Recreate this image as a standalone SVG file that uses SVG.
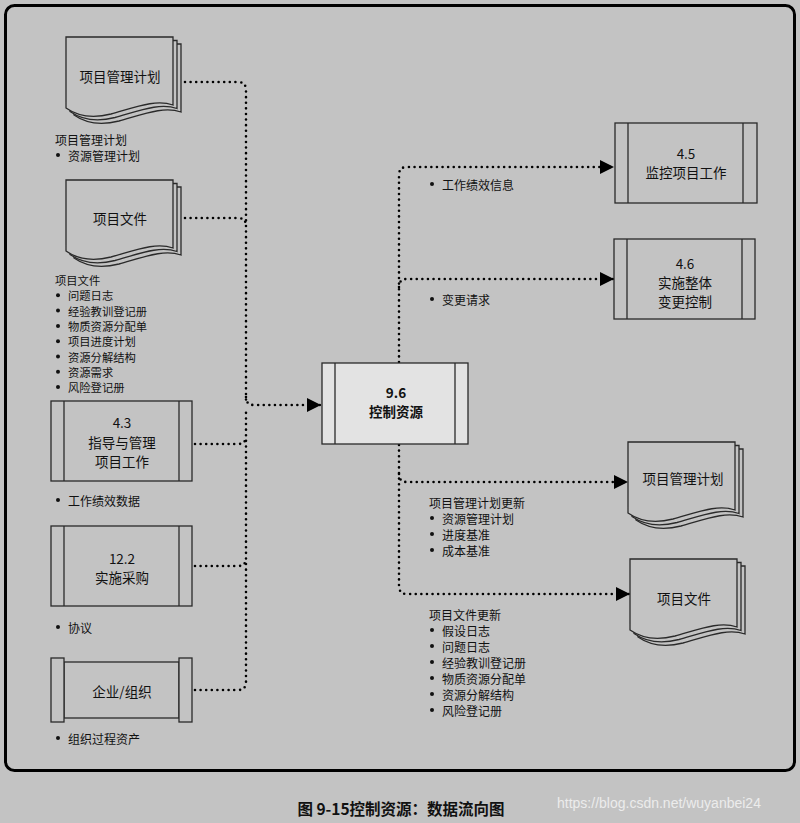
<svg xmlns="http://www.w3.org/2000/svg" width="800" height="823" viewBox="0 0 800 823">
<style>
text{font-family:"Noto Sans CJK SC","Noto Sans",sans-serif;fill:#111;dominant-baseline:central}
.nt{font-size:13.5px;text-anchor:middle}
.b{font-weight:bold}
.lb{font-size:12px}
.ls{font-size:11.3px}
.shape{fill:#c3c3c3;stroke:#2a2a2a;stroke-width:1.3}
.center{fill:#e3e3e3;stroke:#2a2a2a;stroke-width:1.3}
.dot{fill:none;stroke:#000;stroke-width:2.6;stroke-linecap:round;stroke-dasharray:0 5.6}
.bul{fill:#111}
</style>
<defs>
<marker id="arr" markerUnits="userSpaceOnUse" markerWidth="14" markerHeight="14" refX="14" refY="7" orient="auto">
<path d="M0,0 L14,7 L0,14 Z" fill="#000"/>
</marker>
<g id="docshape">
<path class="shape" transform="translate(8,7)" d="M0,0 H107 V68 C90,62 70,70 45,77 C25,82 10,78 0,71 Z"/>
<path class="shape" transform="translate(4,3.5)" d="M0,0 H107 V68 C90,62 70,70 45,77 C25,82 10,78 0,71 Z"/>
<path class="shape" d="M0,0 H107 V68 C90,62 70,70 45,77 C25,82 10,78 0,71 Z"/>
</g>
</defs>
<rect x="0" y="0" width="800" height="823" fill="#c3c3c3"/>
<rect x="5.5" y="5.5" width="789" height="765" rx="9" fill="none" stroke="#000" stroke-width="3"/>

<g id="connectors">
<path class="dot" d="M185,82 H238 Q246,82 246,90 V400"/>
<path class="dot" d="M185,218 H238 Q246,218 246,226"/>
<path class="dot" d="M195,444 H238 Q246,444 246,436"/>
<path class="dot" d="M195,566 H238 Q246,566 246,558"/>
<path class="dot" d="M195,690 H238 Q246,690 246,682 V410"/>
<path class="dot" d="M246,397 Q246,405 254,405 H321" marker-end="url(#arr)"/>
<path class="dot" d="M399,362 V175 Q399,167 407,167 H614" marker-end="url(#arr)"/>
<path class="dot" d="M399,287 Q399,279 407,279 H614" marker-end="url(#arr)"/>
<path class="dot" d="M399,445 V586 Q399,594 407,594 H630" marker-end="url(#arr)"/>
<path class="dot" d="M399,474 Q399,482 407,482 H628" marker-end="url(#arr)"/>
</g>

<g id="doc-pmp-in">
<use href="#docshape" transform="translate(66,37)"/>
<text class="nt" x="120" y="76">项目管理计划</text>
<text class="lb" x="55" y="139">项目管理计划</text>
<circle class="bul" cx="58" cy="155" r="2"/><text class="lb" x="68" y="155">资源管理计划</text>
</g>

<g id="doc-pd-in">
<use href="#docshape" transform="translate(66,180)"/>
<text class="nt" x="120" y="218">项目文件</text>
<text class="ls" x="55" y="280">项目文件</text>
<circle class="bul" cx="58" cy="295.3" r="2"/><text class="ls" x="68" y="295.3">问题日志</text>
<circle class="bul" cx="58" cy="310.6" r="2"/><text class="ls" x="68" y="310.6">经验教训登记册</text>
<circle class="bul" cx="58" cy="325.9" r="2"/><text class="ls" x="68" y="325.9">物质资源分配单</text>
<circle class="bul" cx="58" cy="341.2" r="2"/><text class="ls" x="68" y="341.2">项目进度计划</text>
<circle class="bul" cx="58" cy="356.5" r="2"/><text class="ls" x="68" y="356.5">资源分解结构</text>
<circle class="bul" cx="58" cy="371.8" r="2"/><text class="ls" x="68" y="371.8">资源需求</text>
<circle class="bul" cx="58" cy="387.1" r="2"/><text class="ls" x="68" y="387.1">风险登记册</text>
</g>

<g id="proc-4-3">
<rect class="shape" x="51" y="401" width="141" height="80"/>
<line class="shape" x1="64" y1="401" x2="64" y2="481"/>
<line class="shape" x1="179" y1="401" x2="179" y2="481"/>
<text class="nt" x="122" y="422">4.3</text>
<text class="nt" x="122" y="442">指导与管理</text>
<text class="nt" x="122" y="461">项目工作</text>
<circle class="bul" cx="58" cy="500" r="2"/><text class="lb" x="68" y="500">工作绩效数据</text>
</g>

<g id="proc-12-2">
<rect class="shape" x="51" y="526" width="141" height="80"/>
<line class="shape" x1="64" y1="526" x2="64" y2="606"/>
<line class="shape" x1="179" y1="526" x2="179" y2="606"/>
<text class="nt" x="122" y="558">12.2</text>
<text class="nt" x="122" y="577">实施采购</text>
<circle class="bul" cx="58" cy="627" r="2"/><text class="lb" x="68" y="627">协议</text>
</g>

<g id="ext-org">
<rect class="shape" x="64" y="662" width="115" height="56"/>
<rect class="shape" x="51" y="658" width="13" height="64"/>
<rect class="shape" x="179" y="658" width="13" height="64"/>
<text class="nt" x="122" y="691">企业/组织</text>
<circle class="bul" cx="58" cy="738" r="2"/><text class="lb" x="68" y="738">组织过程资产</text>
</g>

<g id="proc-9-6">
<rect class="center" x="322" y="363" width="146" height="81"/>
<line class="center" x1="335" y1="363" x2="335" y2="444"/>
<line class="center" x1="455" y1="363" x2="455" y2="444"/>
<text class="nt b" x="396" y="392">9.6</text>
<text class="nt b" x="396" y="411">控制资源</text>
</g>

<g id="proc-4-5">
<rect class="shape" x="615" y="123" width="142" height="80"/>
<line class="shape" x1="628" y1="123" x2="628" y2="203"/>
<line class="shape" x1="743" y1="123" x2="743" y2="203"/>
<text class="nt" x="686" y="153">4.5</text>
<text class="nt" x="686" y="172">监控项目工作</text>
<circle class="bul" cx="432" cy="184" r="2"/><text class="lb" x="442" y="184">工作绩效信息</text>
</g>

<g id="proc-4-6">
<rect class="shape" x="614" y="239" width="141" height="80"/>
<line class="shape" x1="627" y1="239" x2="627" y2="319"/>
<line class="shape" x1="742" y1="239" x2="742" y2="319"/>
<text class="nt" x="685" y="263">4.6</text>
<text class="nt" x="685" y="282">实施整体</text>
<text class="nt" x="685" y="301">变更控制</text>
<circle class="bul" cx="432" cy="299" r="2"/><text class="lb" x="442" y="299">变更请求</text>
</g>

<g id="doc-pmp-out">
<use href="#docshape" transform="translate(628,442)"/>
<text class="nt" x="683" y="478">项目管理计划</text>
<text class="lb" x="429" y="502">项目管理计划更新</text>
<circle class="bul" cx="432" cy="518" r="2"/><text class="lb" x="442" y="518">资源管理计划</text>
<circle class="bul" cx="432" cy="534" r="2"/><text class="lb" x="442" y="534">进度基准</text>
<circle class="bul" cx="432" cy="550" r="2"/><text class="lb" x="442" y="550">成本基准</text>
</g>

<g id="doc-pd-out">
<use href="#docshape" transform="translate(630,559)"/>
<text class="nt" x="684" y="598">项目文件</text>
<text class="lb" x="429" y="614">项目文件更新</text>
<circle class="bul" cx="432" cy="630" r="2"/><text class="lb" x="442" y="630">假设日志</text>
<circle class="bul" cx="432" cy="646" r="2"/><text class="lb" x="442" y="646">问题日志</text>
<circle class="bul" cx="432" cy="662" r="2"/><text class="lb" x="442" y="662">经验教训登记册</text>
<circle class="bul" cx="432" cy="678" r="2"/><text class="lb" x="442" y="678">物质资源分配单</text>
<circle class="bul" cx="432" cy="694" r="2"/><text class="lb" x="442" y="694">资源分解结构</text>
<circle class="bul" cx="432" cy="710" r="2"/><text class="lb" x="442" y="710">风险登记册</text>
</g>

<text class="b" x="401" y="808" style="font-size:15.5px;text-anchor:middle">图 9-15控制资源：数据流向图</text>
<text x="557" y="803" style="font-size:14px;fill:#ececec;font-family:'Liberation Sans',Arial,sans-serif">https://blog.csdn.net/wuyanbei24</text>
</svg>
